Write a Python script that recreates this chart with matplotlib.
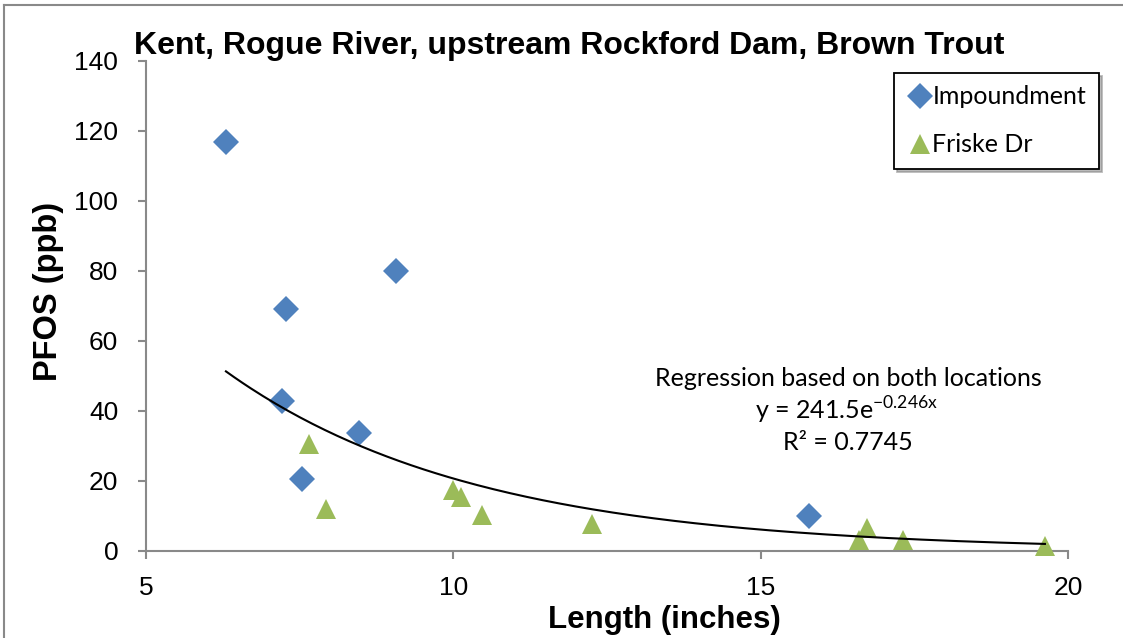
import numpy as np
import matplotlib
matplotlib.use("Agg")
import matplotlib.pyplot as plt
from matplotlib.lines import Line2D

# ---- data ----
imp_x = [6.30, 7.28, 9.06, 7.21, 8.47, 7.53, 15.78]
imp_y = [116.8, 69.1, 79.9, 42.8, 33.6, 20.4, 10.0]
fr_x = [7.65, 7.92, 10.00, 10.12, 10.46, 12.25, 16.60, 16.72, 17.31, 19.62]
fr_y = [30.4, 11.8, 17.4, 15.4, 10.2, 7.5, 3.1, 6.5, 3.1, 1.3]
fit_a = 241.5
fit_b = -0.246
r2 = 0.7745
title = "Kent, Rogue River, upstream Rockford Dam, Brown Trout"
xlabel = "Length (inches)"
ylabel = "PFOS (ppb)"
xticks = [5, 10, 15, 20]
yticks = [0, 20, 40, 60, 80, 100, 120, 140]

W, H = 1123, 638
fig = plt.figure(figsize=(W / 100, H / 100), dpi=100)
SANS = ["Liberation Sans", "DejaVu Sans"]
CAL = ["Lato", "DejaVu Sans"]

def fx(px):
    return px / W

def fy(py):
    return 1 - py / H

ax = fig.add_axes([fx(146), fy(550.7), 922.3 / W, 489.7 / H])
ax.set_xlim(5, 20)
ax.set_ylim(0, 140)
ax.set_xticks(xticks)
ax.set_yticks(yticks)
ax.set_xticklabels([str(t) for t in xticks], fontfamily=SANS, fontsize=19)
ax.set_yticklabels([str(t) for t in yticks], fontfamily=SANS, fontsize=19)
spine_c = "#898989"
for s in ["top", "right"]:
    ax.spines[s].set_visible(False)
for s in ["left", "bottom"]:
    ax.spines[s].set_color(spine_c)
    ax.spines[s].set_linewidth(1.5)
ax.tick_params(axis="both", direction="out", color=spine_c, width=1.5, length=6)
ax.tick_params(axis="y", pad=14)
ax.tick_params(axis="x", pad=12)

blue = "#4F81BD"
green = "#9BBB59"
ax.plot(imp_x, imp_y, linestyle="none", marker="D", ms=13, color=blue,
        markeredgewidth=0, label="Impoundment", clip_on=False, zorder=3)
ax.plot(fr_x, fr_y, linestyle="none", marker="^", ms=15, color=green,
        markeredgewidth=0, label="Friske Dr", clip_on=False, zorder=3)

all_x = np.array(imp_x + fr_x)
xs = np.linspace(all_x.min(), all_x.max(), 200)
ax.plot(xs, fit_a * np.exp(fit_b * xs), color="black", lw=1.5, zorder=4)

fig.text(fx(848), fy(378), "Regression based on both locations",
         ha="center", va="center", fontfamily=CAL, fontsize=18)
fig.text(fx(846), fy(410), r"y = %.1fe$^{\mathregular{%.3fx}}$" % (fit_a, fit_b),
         ha="center", va="center", fontfamily=CAL, fontsize=18)
fig.text(fx(848), fy(442), "R² = %.4f" % r2,
         ha="center", va="center", fontfamily=CAL, fontsize=18)

fig.text(fx(569), fy(54), title, ha="center", va="baseline",
         fontfamily=SANS, fontsize=23, fontweight="bold")
fig.text(fx(664), fy(628), xlabel, ha="center", va="baseline",
         fontfamily=SANS, fontsize=22.5, fontweight="bold")
fig.text(fx(57), fy(291.5), ylabel, ha="center", va="baseline", rotation=90,
         rotation_mode="anchor", fontfamily=SANS, fontsize=23.5, fontweight="bold")

leg = ax.legend(loc="upper left", bbox_to_anchor=(fx(894), fy(73)),
                bbox_transform=fig.transFigure, frameon=True, fancybox=False,
                shadow={"color": "0.55", "alpha": 0.6},
                prop={"family": CAL, "size": 18}, handlelength=1.04,
                handletextpad=0.0, labelspacing=1.0, borderpad=0.5,
                borderaxespad=0)
leg.get_frame().set_edgecolor("black")
leg.get_frame().set_linewidth(1.3)

# outer chart frame
fig.add_artist(Line2D([fx(4), 1], [fy(5), fy(5)], color=spine_c, lw=1.5,
                      transform=fig.transFigure))
fig.add_artist(Line2D([fx(4), fx(4)], [fy(5), 0], color=spine_c, lw=1.5,
                      transform=fig.transFigure))

fig.savefig("out.png", dpi=100)
